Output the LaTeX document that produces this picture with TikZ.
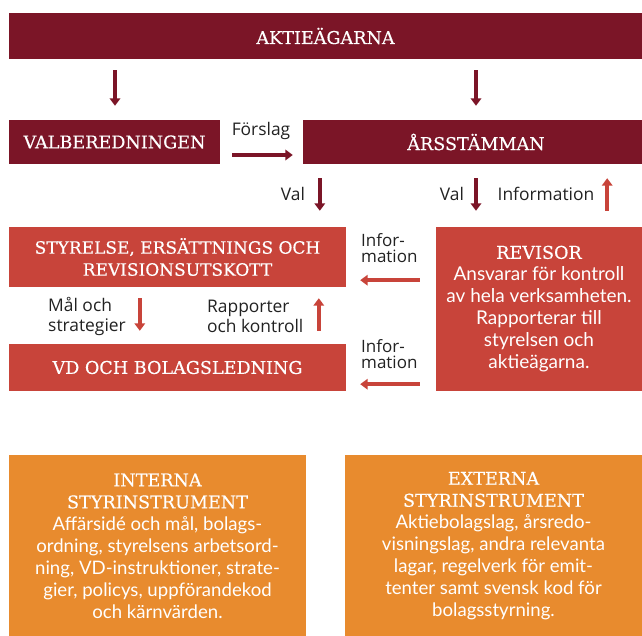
\documentclass[tikz,border=0pt]{standalone}
\usepackage{fontspec}
\setmainfont{Open Sans}
\newfontfamily\slab[FakeBold=0.4]{DejaVu Serif}
\newfontfamily\bodyf{Lato}
\usetikzlibrary{arrows.meta,calc}
\definecolor{dred}{HTML}{7B1527}
\definecolor{mred}{HTML}{C8443A}
\definecolor{aorange}{HTML}{E88B2E}
\definecolor{labtxt}{HTML}{222222}
\begin{document}
\begin{tikzpicture}[x=1pt,y=-1pt,
  box/.style={draw=none, inner sep=0pt, align=center, text=white,
    font=\slab\fontsize{17.6}{22}\selectfont},
  arr/.style={line width=3.6pt, -{Triangle[width=10.5pt,length=7.5pt]}},
  lab/.style={inner sep=0pt, text=labtxt, font=\fontsize{17.4}{20}\selectfont},
  bodytxt/.style={font=\bodyf\fontsize{17.5}{22}\selectfont}
]
\useasboundingbox (0,0) rectangle (642,635);
\fill[white] (0,0) rectangle (642,635);

% boxes
\node[box, fill=dred, minimum width=633pt, minimum height=46pt] (aktie) at (325.5,36) {AKTIEÄGARNA};
\node[box, fill=dred, minimum width=211pt, minimum height=44pt] (valb) at (114.5,142) {VALBEREDNINGEN};
\node[box, fill=dred, minimum width=339pt, minimum height=44pt] (arss) at (472.5,142) {\hspace*{7pt}ÅRSSTÄMMAN};
\node[box, fill=mred, minimum width=337pt, minimum height=60pt, font=\slab\fontsize{17}{22}\selectfont] (styr) at (177.5,257) {STYRELSE, ERSÄTTNINGS OCH\\REVISIONSUTSKOTT};
\node[box, fill=mred, minimum width=337pt, minimum height=47pt] (vd) at (177.5,367.5) {VD OCH BOLAGSLEDNING};
\node[box, fill=mred, minimum width=206pt, minimum height=164pt] (revisor) at (539,309)
  {REVISOR\\{\bodyf\fontsize{19}{22}\selectfont Ansvarar för kontroll}\\{\bodyf\fontsize{19}{22}\selectfont av hela verksamheten.}\\{\bodyf\fontsize{19}{22}\selectfont Rapporterar till}\\{\bodyf\fontsize{19}{22}\selectfont styrelsen och}\\{\bodyf\fontsize{19}{22}\selectfont aktieägarna.}};
\node[box, fill=aorange, minimum width=297pt, minimum height=182pt] (intern) at (157.5,546)
  {INTERNA\\STYRINSTRUMENT\\{\bodyf\fontsize{18.6}{22}\selectfont Affärsidé och mål, bolags-}\\{\bodyf\fontsize{18.6}{22}\selectfont ordning, styrelsens arbetsord-}\\{\bodyf\fontsize{18.6}{22}\selectfont ning, VD-instruktioner, strate-}\\{\bodyf\fontsize{18.6}{22}\selectfont gier, policys, uppförandekod}\\{\bodyf\fontsize{18.6}{22}\selectfont och kärnvärden.}};
\node[box, fill=aorange, minimum width=297pt, minimum height=182pt] (extern) at (493.5,546)
  {EXTERNA\\STYRINSTRUMENT\\{\bodyf\fontsize{18.6}{22}\selectfont Aktiebolagslag, årsredo-}\\{\bodyf\fontsize{18.6}{22}\selectfont visningslag, andra relevanta}\\{\bodyf\fontsize{18.6}{22}\selectfont lagar, regelverk för emit-}\\{\bodyf\fontsize{18.6}{22}\selectfont tenter samt svensk kod för}\\{\bodyf\fontsize{18.6}{22}\selectfont bolagsstyrning.}};

% arrows
\draw[arr, dred] ($(aktie.south -| valb.north)+(0.5,11)$) -- ($(valb.north)+(0.5,-14)$);
\draw[arr, dred] ($(aktie.south -| arss.north)+(3.5,11)$) -- ($(arss.north)+(3.5,-14)$);
\draw[arr, dred] ($(valb.east)+(12,13)$) -- ($(arss.west)+(-10,13)$);
\draw[arr, dred] ($(arss.south west)+(17,14)$) -- ($(arss.south west |- styr.north)+(17,-16)$);
\draw[arr, dred] ($(arss.south)+(3.5,14)$) -- ($(arss.south |- revisor.north)+(3.5,-16)$);
\draw[arr, mred] ($(revisor.north east)+(-35,-16)$) -- ($(revisor.north east |- arss.south)+(-35,14)$);
\draw[arr, mred] ($(revisor.west |- styr.south)+(-16,-7)$) -- ($(styr.south east)+(14,-7)$);
\draw[arr, mred] ($(revisor.south west)+(-16,-7)$) -- ($(vd.south east)+(14,-7)$);
\draw[arr, mred] ($(styr.south west)+(131,11)$) -- ($(styr.south west |- vd.north)+(131,-13)$);
\draw[arr, mred] ($(vd.north west)+(310,-13)$) -- ($(styr.south west)+(310,11)$);

% labels
\node[lab] (lforslag) at (261,131) {Förslag};
\node[lab] (lval1) at (293,194) {Val};
\node[lab] (lval2) at (452,194) {Val};
\node[lab] (linfo) at (546,194) {Information};
\node[lab, anchor=west, align=left, font=\fontsize{17}{16}\selectfont] (linfo1) at (361,248) {Infor-\\mation};
\node[lab, anchor=west, align=left, font=\fontsize{17}{16}\selectfont] (linfo2) at (361,354) {Infor-\\mation};
\node[lab, anchor=west, align=left] (lmal) at (48,316) {Mål och\\strategier};
\node[lab, anchor=west, align=left] (lrap) at (207,316) {Rapporter\\och kontroll};
\end{tikzpicture}
\end{document}
